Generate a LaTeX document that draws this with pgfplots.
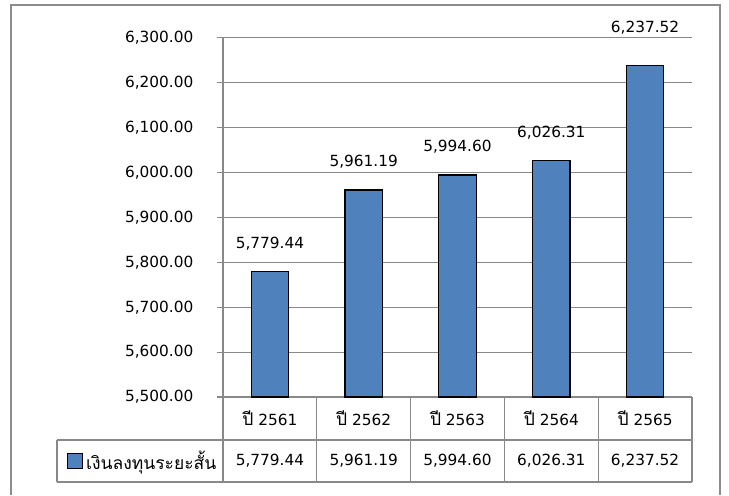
\documentclass[border=0pt]{standalone}
\usepackage{pgfplots}
\pgfplotsset{compat=1.18}
\usepackage{fontspec}
\setmainfont{DejaVu Sans}
\newfontfamily\thaifont[Script=Thai,Scale=1.14]{Loma}
\usetikzlibrary{calc}
\definecolor{barblue}{HTML}{4F81BD}
\definecolor{gridgray}{HTML}{898989}
\definecolor{framegray}{HTML}{8C8C8C}
\pgfplotstableread{
x y dy lab
0 5779.44 21 5,779.44
1 5961.19 21 5,961.19
2 5994.60 21 5,994.60
3 6026.31 21 6,026.31
4 6237.52 28.5 6,237.52
}\datatable
\begin{document}
\fontsize{11.5pt}{14pt}\selectfont
\begin{tikzpicture}
\begin{axis}[
  scale only axis,
  width=351.75pt, height=269.5pt,
  xmin=-0.5, xmax=4.5,
  ymin=5500, ymax=6300,
  ytick distance=100,
  xtick={0,1,2,3,4},
  xticklabels={{\thaifont ปี} 2561,{\thaifont ปี} 2562,{\thaifont ปี} 2563,{\thaifont ปี} 2564,{\thaifont ปี} 2565},
  xtick style={draw=none},
  xticklabel style={anchor=center, yshift=-11pt},
  axis x line*=bottom, axis y line*=left,
  axis line style={gridgray, line width=0.9pt, -},
  tick align=outside, major tick length=4.7pt,
  ytick style={gridgray, line width=0.9pt},
  ymajorgrids, grid style={gridgray, line width=0.9pt},
  yticklabel style={xshift=-13.5pt, /pgf/number format/.cd, fixed, fixed zerofill, precision=2, 1000 sep={,}, assume math mode=true},
  clip=false,
  legend style={at={(rel axis cs:0,0)}, anchor=west, xshift=-117pt, yshift=-48pt, draw=none, fill=none, inner sep=0pt, nodes={inner sep=2pt}},
  legend cell align=left,
]
\addplot[ybar, bar width=0.4, fill=barblue, draw=black, line width=0.9pt,
  nodes near coords={\pgfplotspointmeta},
  point meta=explicit symbolic,
  visualization depends on={\thisrow{dy} \as \dy},
  nodes near coords style={anchor=center, yshift=\dy pt, black},
  legend image code/.code={\draw[fill=barblue, draw=black, line width=0.9pt] (0pt,-5.6pt) rectangle (11.25pt,5.6pt);},
] table[x=x, y=y, meta=lab] {\datatable};
\addlegendentry{\thaifont เงินลงทุนระยะสั้น}
\coordinate (SW) at (rel axis cs:0,0);
\coordinate (NE) at (rel axis cs:1,1);
\node at (axis cs:0,5500) [yshift=-48pt] {5,779.44};
\node at (axis cs:1,5500) [yshift=-48pt] {5,961.19};
\node at (axis cs:2,5500) [yshift=-48pt] {5,994.60};
\node at (axis cs:3,5500) [yshift=-48pt] {6,026.31};
\node at (axis cs:4,5500) [yshift=-48pt] {6,237.52};
\end{axis}
\draw[framegray, line width=1.1pt] ($(SW)+(-159pt,-73.5pt)$) -- ($(SW|-NE)+(-159pt,24.5pt)$) -- ($(NE)+(21pt,24.5pt)$) -- ($(NE|-SW)+(21pt,-73.5pt)$);
\draw[gridgray, line width=0.9pt] ($(SW)+(-124.5pt,-32.25pt)$) -- ($(NE|-SW)+(0,-32.25pt)$);
\draw[gridgray, line width=0.9pt] ($(SW)+(-124.5pt,-63.75pt)$) -- ($(NE|-SW)+(0,-63.75pt)$);
\draw[gridgray, line width=0.9pt] ($(SW)+(-124.5pt,-32.25pt)$) -- ($(SW)+(-124.5pt,-63.75pt)$);
\foreach \k in {0,...,5} \draw[gridgray, line width=0.9pt] ($(SW)+(\k*70.35pt,0)$) -- ($(SW)+(\k*70.35pt,-63.75pt)$);
\pgfresetboundingbox
\path[use as bounding box] ($(SW)+(-167.25pt,-73.5pt)$) rectangle ($(NE)+(27.75pt,28.3pt)$);
\end{tikzpicture}
\end{document}
